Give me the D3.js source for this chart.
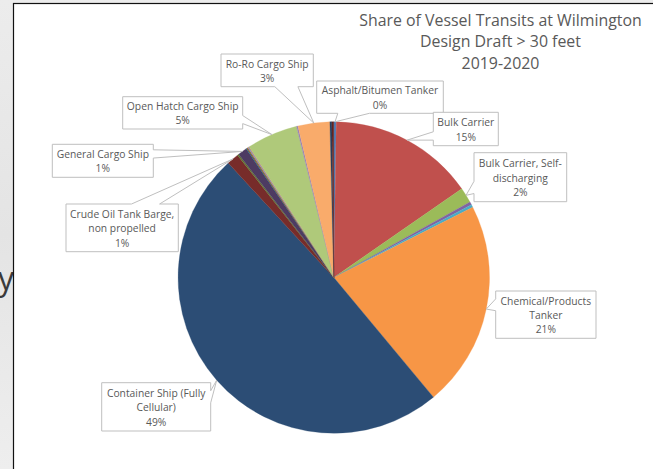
<!DOCTYPE html>
<html>
<head>
<meta charset="utf-8">
<script src="https://cdn.jsdelivr.net/npm/d3@7"></script>
<style>
  html, body { margin: 0; padding: 0; overflow: hidden; background: #e9e9e9; }
  svg { display: block; }
</style>
</head>
<body>
<svg id="chart" width="653" height="469"></svg>
<script>
// ---- Data -------------------------------------------------------------
const titleLines = ["Share of Vessel Transits at Wilmington", "Design Draft > 30 feet", "2019-2020"];

// Vessel types in series order (clockwise from 12 o'clock)
const categories = [
  "Asphalt/Bitumen Tanker",
  "Bulk Carrier",
  "Bulk Carrier, Self-discharging",
  "Other vessel type 4",
  "Other vessel type 5",
  "Chemical/Products Tanker",
  "Container Ship (Fully Cellular)",
  "Crude Oil Tank Barge, non propelled",
  "Other vessel type 9",
  "General Cargo Ship",
  "Other vessel type 11",
  "Other vessel type 12",
  "Other vessel type 13",
  "Other vessel type 14",
  "Open Hatch Cargo Ship",
  "Other vessel type 16",
  "Ro-Ro Cargo Ship",
  "Other vessel type 19",
  "Other vessel type 20"
];

// Share of transits, percent
const shares = [0.25, 15.1, 1.6, 0.3, 0.3, 21.4, 49.19, 1.25, 0.15, 0.95, 0.1, 0.1, 0.1, 0.06, 5.3, 0.15, 3.3, 0.2, 0.2];

const sliceColors = [
  "#4f81bd", "#c0504d", "#9bbb59", "#8064a2", "#4bacc6", "#f79646",
  "#2c4d75", "#772c2a", "#5f7530", "#4d3b62", "#276a7c", "#b65708",
  "#729aca", "#cd7371", "#afc97a", "#9983b5", "#f9ab6b",
  "#254061", "#632523"
];

// ---- Layout -----------------------------------------------------------
const W = 653, H = 469;
const cx = 333.8, cy = 277.5, R = 155.7;

// Callout boxes for the labelled slices (left, top, width, height, wrapped name)
const callouts = {
  "Asphalt/Bitumen Tanker":              { x: 316.7, y: 81,    w: 126.6, h: 32.3, lines: ["Asphalt/Bitumen Tanker"] },
  "Bulk Carrier":                        { x: 433.3, y: 112.3, w: 65,    h: 33.4, lines: ["Bulk Carrier"] },
  "Bulk Carrier, Self-discharging":      { x: 474,   y: 152.7, w: 92.7,  h: 49,   lines: ["Bulk Carrier, Self-", "discharging"] },
  "Chemical/Products Tanker":            { x: 495.7, y: 291,   w: 100.3, h: 47.3, lines: ["Chemical/Products", "Tanker"] },
  "Container Ship (Fully Cellular)":     { x: 101.7, y: 382.7, w: 109,   h: 48.3, lines: ["Container Ship (Fully", "Cellular)"] },
  "Crude Oil Tank Barge, non propelled": { x: 66,    y: 204,   w: 112.3, h: 47.7, lines: ["Crude Oil Tank Barge,", "non propelled"] },
  "General Cargo Ship":                  { x: 52.3,  y: 144.3, w: 101,   h: 33,   lines: ["General Cargo Ship"] },
  "Open Hatch Cargo Ship":               { x: 122.7, y: 96.7,  w: 120,   h: 32.3, lines: ["Open Hatch Cargo Ship"] },
  "Ro-Ro Cargo Ship":                    { x: 221,   y: 54,    w: 92.3,  h: 32.7, lines: ["Ro-Ro Cargo Ship"] }
};

const textColor = "#595959";
const labelFont = "'Open Sans', 'DejaVu Sans', sans-serif";

const svg = d3.select("#chart");

// Slide backdrop and the slide text that peeks out at the left
const defs = svg.append("defs");
const bg = defs.append("linearGradient").attr("id", "slideBg").attr("x1", 0).attr("y1", 0).attr("x2", 0).attr("y2", 1);
bg.append("stop").attr("offset", "0%").attr("stop-color", "#ececec");
bg.append("stop").attr("offset", "50%").attr("stop-color", "#e4e4e4");
bg.append("stop").attr("offset", "100%").attr("stop-color", "#eeeeee");
svg.append("rect").attr("width", W).attr("height", H).attr("fill", "url(#slideBg)");
svg.append("text")
  .attr("x", -2).attr("y", 290)
  .attr("font-family", labelFont).attr("font-size", 32)
  .attr("fill", "#3a3a3a")
  .text("y");

// Chart area
svg.append("rect")
  .attr("x", 13.5).attr("y", 3.5)
  .attr("width", W).attr("height", H)
  .attr("fill", "#ffffff")
  .attr("stroke", "#111111").attr("stroke-width", 1.2);

// ---- Pie ----------------------------------------------------------------
const data = categories.map((c, i) => ({ name: c, value: shares[i], color: sliceColors[i] }));
const total = d3.sum(shares);

const pie = d3.pie().sort(null).value(d => d.value).startAngle(0).endAngle(2 * Math.PI);
const arcs = pie(data);
const arc = d3.arc().innerRadius(0).outerRadius(R);

const g = svg.append("g").attr("transform", `translate(${cx},${cy})`);
g.selectAll("path.slice")
  .data(arcs)
  .join("path")
  .attr("class", "slice")
  .attr("d", arc)
  .attr("fill", d => d.data.color)
  .attr("stroke", d => d.data.color)
  .attr("stroke-width", 0.3);

// ---- Callout labels (rectangular callout with a wedge to the slice) -----
function calloutPath(b, tx, ty) {
  const l = b.x, t = b.y, r = b.x + b.w, btm = b.y + b.h;
  const hc = l + b.w / 2, vc = t + b.h / 2;
  const dx = tx - hc, dy = ty - vc;
  const dq = dx * b.h / b.w;
  const dz = Math.abs(dy) - Math.abs(dq);
  const x1 = l + b.w * (dx > 0 ? 7 : 2) / 12, x2 = l + b.w * (dx > 0 ? 10 : 5) / 12;
  const y1 = t + b.h * (dy > 0 ? 7 : 2) / 12, y2 = t + b.h * (dy > 0 ? 10 : 5) / 12;
  let side;
  if (dz > 0) side = dy > 0 ? "bottom" : "top";
  else side = dx > 0 ? "right" : "left";
  const p = d3.path();
  p.moveTo(l, t);
  if (side === "top") { p.lineTo(x1, t); p.lineTo(tx, ty); p.lineTo(x2, t); }
  p.lineTo(r, t);
  if (side === "right") { p.lineTo(r, y1); p.lineTo(tx, ty); p.lineTo(r, y2); }
  p.lineTo(r, btm);
  if (side === "bottom") { p.lineTo(x2, btm); p.lineTo(tx, ty); p.lineTo(x1, btm); }
  p.lineTo(l, btm);
  if (side === "left") { p.lineTo(l, y2); p.lineTo(tx, ty); p.lineTo(l, y1); }
  p.closePath();
  return p.toString();
}

const labelled = arcs.filter(a => callouts[a.data.name]);
const lg = svg.append("g").attr("class", "labels");
labelled.forEach(a => {
  const b = callouts[a.data.name];
  const mid = (a.startAngle + a.endAngle) / 2;
  const tx = cx + R * Math.sin(mid), ty = cy - R * Math.cos(mid);
  lg.append("path")
    .attr("d", calloutPath(b, tx, ty))
    .attr("fill", "#ffffff")
    .attr("stroke", "#bfbfbf")
    .attr("stroke-width", 1);
  const lines = b.lines.concat([Math.round(a.data.value / total * 100) + "%"]);
  const step = 14.4;
  const y0 = b.y + b.h / 2 + 0.8 - (lines.length - 1) * step / 2;
  const t = lg.append("text")
    .attr("font-family", labelFont)
    .attr("font-size", 10.3)
    .attr("fill", textColor)
    .attr("text-anchor", "middle");
  lines.forEach((ln, i) => {
    t.append("tspan")
      .attr("x", b.x + b.w / 2)
      .attr("y", y0 + i * step)
      .attr("dy", "0.35em")
      .text(ln);
  });
});

// ---- Title ----------------------------------------------------------------
const title = svg.append("text")
  .attr("font-family", labelFont)
  .attr("font-size", 15.9)
  .attr("fill", textColor)
  .attr("text-anchor", "middle");
titleLines.forEach((ln, i) => {
  title.append("tspan")
    .attr("x", 500.5)
    .attr("y", 20 + i * 21.7)
    .attr("dy", "0.35em")
    .text(ln);
});
</script>
</body>
</html>
